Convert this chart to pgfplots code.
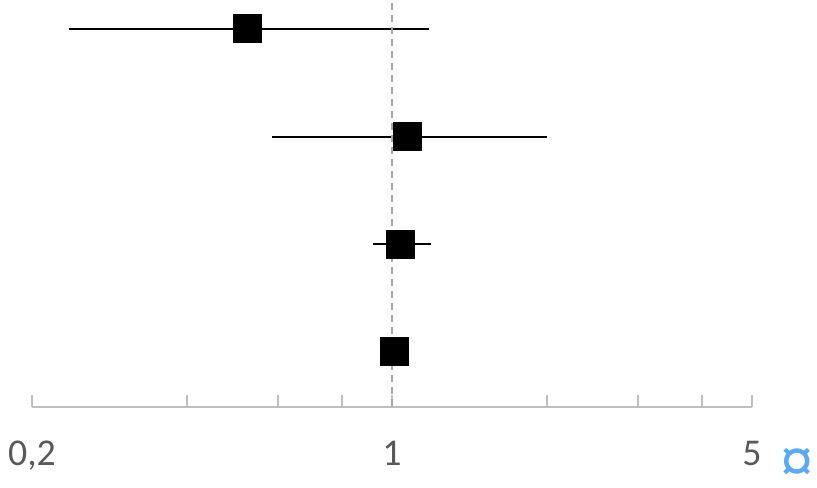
\documentclass[border=0pt]{standalone}
\usepackage{fontspec}
\setmainfont{Carlito}
\newfontfamily\symfont{Liberation Sans}
\usepackage{pgfplots}
\pgfplotsset{compat=1.18}
\usetikzlibrary{calc}
\definecolor{axisgray}{HTML}{BFBFBF}
\definecolor{labelgray}{HTML}{595959}
\definecolor{refgray}{HTML}{A6A6A6}
\definecolor{markblue}{HTML}{5BA8F5}

\begin{document}
\begin{tikzpicture}
\begin{axis}[
  scale only axis, width=360bp, height=203.5bp,
  xmode=log, xmin=0.2, xmax=5, ymin=0.489, ymax=4.269,
  axis x line=bottom, axis y line=none,
  x axis line style={-, draw=axisgray, line width=1bp},
  xtick={0.2,0.4,0.6,0.8,1,2,3,4,5},
  xticklabels={{0,2},{},{},{},{1},{},{},{},{5}},
  minor tick num=0,
  tick align=inside,
  major tick length=6bp,
  x tick style={draw=axisgray, line width=0.8bp},
  xticklabel style={anchor=base, yshift=-29bp, font=\fontsize{19}{22}\selectfont, text=labelgray},
  clip=false,
]
  % confidence intervals
  \addplot[black, line width=1bp] coordinates {(0.236,4) (1.181,4)};
  \addplot[black, line width=1bp] coordinates {(0.585,3) (1.997,3)};
  \addplot[black, line width=1bp] coordinates {(0.919,2) (1.190,2)};
  % point estimates
  \addplot[only marks, mark=square*, mark size=7bp,
    mark options={draw=black, fill=black, line width=0pt}]
    coordinates {(0.524,4) (1.070,3) (1.041,2) (1.013,1)};
  % reference line at 1
  \addplot[refgray, line width=0.75bp, dash pattern=on 3.5bp off 2.5bp]
    coordinates {(1,0.5) (1,4.269)};
\end{axis}
\node[text=markblue, font=\symfont\fontsize{30}{32}\selectfont, inner sep=0pt]
  at ($(current axis.south west)+(382.75bp,-29bp)$) {¤};
\pgfresetboundingbox
\useasboundingbox ($(current axis.south west)+(-16bp,-40.5bp)$)
  rectangle ($(current axis.north east)+(32.5bp,0bp)$);
\end{tikzpicture}
\end{document}
